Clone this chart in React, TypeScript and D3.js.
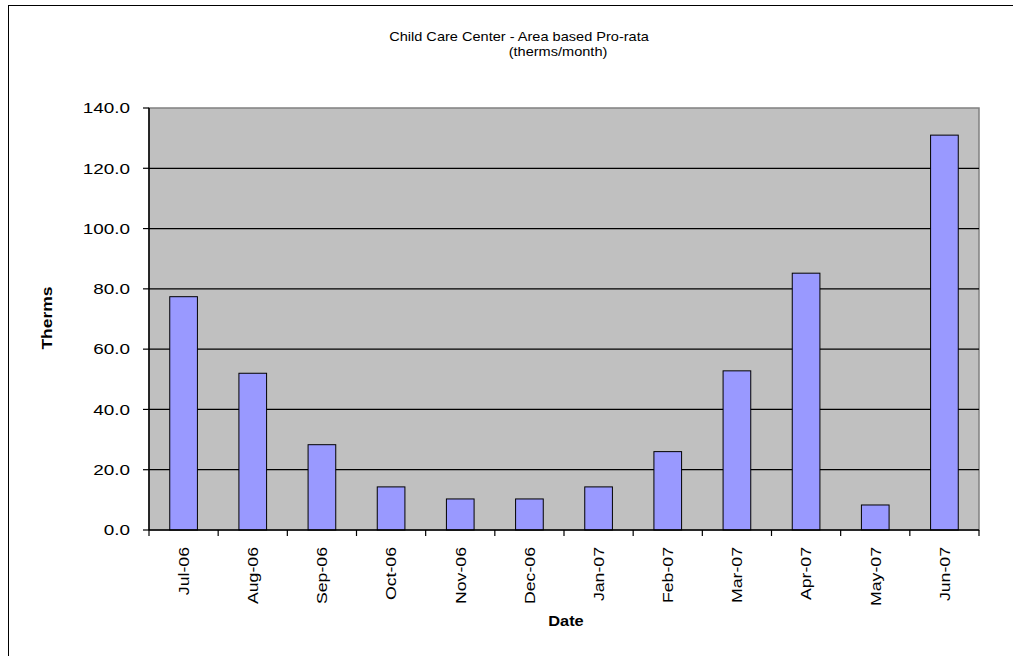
import React from 'react';
import * as d3 from 'd3';

// chart data
const months = ['Jul-06', 'Aug-06', 'Sep-06', 'Oct-06', 'Nov-06', 'Dec-06', 'Jan-07', 'Feb-07', 'Mar-07', 'Apr-07', 'May-07', 'Jun-07'];
const therms = [77.4, 52.0, 28.3, 14.3, 10.3, 10.3, 14.3, 26.0, 52.8, 85.2, 8.3, 131.0];
const yTicks = [0, 20, 40, 60, 80, 100, 120, 140];

const W = 1013;
const H = 656;
const plot = { left: 149, right: 979, top: 108, bottom: 530 };
const font = '"Liberation Sans", Arial, sans-serif';

export default function App() {
  const x = d3
    .scaleBand()
    .domain(months)
    .range([plot.left, plot.right])
    .paddingInner(0.6)
    .paddingOuter(0.3);

  const y = d3.scaleLinear().domain([0, 140]).range([plot.bottom, plot.top]);

  const step = x.step();
  const fmt = d3.format('.1f');

  return (
    <div style={{ position: 'fixed', left: 0, top: 0 }}>
      <svg width={W} height={H} style={{ display: 'block', background: '#fff' }} fontFamily={font}>
        {/* outer chart border */}
        <rect x={8.5} y={5.5} width={1100} height={800} fill="#fff" stroke="#000" strokeWidth={1} />

        {/* plot area */}
        <rect
          x={plot.left}
          y={plot.top}
          width={plot.right - plot.left}
          height={plot.bottom - plot.top}
          fill="#C0C0C0"
          stroke="#808080"
          strokeWidth={1.5}
        />

        {/* gridlines */}
        {yTicks.filter((t) => t > 0 && t < 140).map((t) => (
          <line key={t} x1={plot.left} x2={plot.right} y1={y(t)} y2={y(t)} stroke="#000" strokeWidth={1.2} />
        ))}

        {/* bars */}
        {months.map((m, i) => (
          <rect
            key={m}
            x={x(m)}
            y={y(therms[i])}
            width={x.bandwidth()}
            height={plot.bottom - y(therms[i])}
            fill="#9999FF"
            stroke="#000"
            strokeWidth={1}
          />
        ))}

        {/* y axis */}
        <line x1={plot.left} x2={plot.left} y1={plot.top} y2={plot.bottom} stroke="#000" strokeWidth={1.5} />
        {yTicks.map((t) => (
          <g key={t}>
            <line x1={plot.left - 6} x2={plot.left} y1={y(t)} y2={y(t)} stroke="#000" strokeWidth={1.2} />
            <text
              transform={`translate(130,${y(t)}) scale(1.26,1)`}
              dy="0.35em"
              textAnchor="end"
              fontSize={15}
              fill="#000"
            >
              {fmt(t)}
            </text>
          </g>
        ))}

        {/* x axis */}
        <line x1={plot.left} x2={plot.right} y1={plot.bottom} y2={plot.bottom} stroke="#000" strokeWidth={1.5} />
        {d3.range(months.length + 1).map((i) => (
          <line
            key={i}
            x1={plot.left + i * step}
            x2={plot.left + i * step}
            y1={plot.bottom}
            y2={plot.bottom + 6}
            stroke="#000"
            strokeWidth={1.2}
          />
        ))}
        {months.map((m) => {
          const cx = (x(m) as number) + x.bandwidth() / 2;
          return (
            <text
              key={m}
              transform={`translate(${cx},547) rotate(-90) scale(1.18,1)`}
              dy="0.35em"
              textAnchor="end"
              fontSize={15}
              fill="#000"
            >
              {m}
            </text>
          );
        })}

        {/* titles */}
        <text transform="translate(519,40.5) scale(1.12,1)" textAnchor="middle" fontSize={13} fill="#000">
          Child Care Center - Area based Pro-rata
        </text>
        <text transform="translate(558,56) scale(1.12,1)" textAnchor="middle" fontSize={13} fill="#000">
          (therms/month)
        </text>
        <text transform="translate(52,318) rotate(-90) scale(1.25,1)" textAnchor="middle" fontSize={14} fontWeight="bold" fill="#000">
          Therms
        </text>
        <text transform="translate(566,626) scale(1.17,1)" textAnchor="middle" fontSize={14} fontWeight="bold" fill="#000">
          Date
        </text>
      </svg>
    </div>
  );
}
